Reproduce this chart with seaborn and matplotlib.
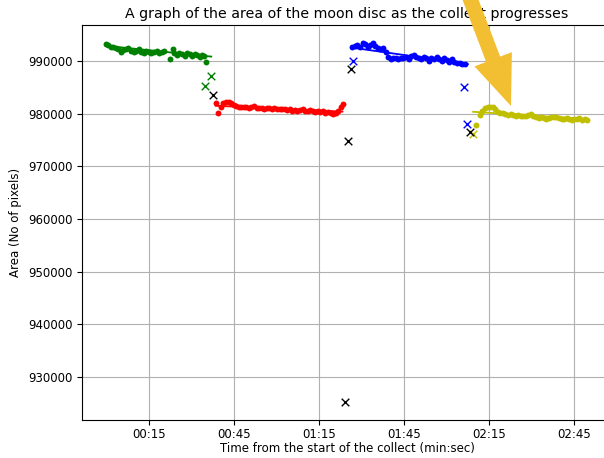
import matplotlib
matplotlib.use("Agg")
import matplotlib.pyplot as plt
from matplotlib.patches import FancyArrow
from matplotlib.transforms import IdentityTransform
from matplotlib.ticker import FuncFormatter
import seaborn as sns

# time in seconds from the start of the collect, area in pixels
green_t = [-0.2, 0.6, 1.5, 2.4, 3.3, 4.2, 5.1, 6.0, 6.9, 7.8, 8.7, 9.6, 10.5, 11.4, 12.3,
           13.2, 14.1, 15.0, 15.9, 16.8, 17.7, 18.6, 19.5, 20.4, 22.6, 23.6, 24.0, 24.9,
           25.8, 26.7, 27.6, 28.5, 29.4, 30.3, 31.2, 32.1, 33.0, 33.9, 34.4, 35.3]
green_area = [993300, 993000, 992750, 992600, 992400, 992200, 991800, 992100, 992300, 992400,
              992000, 991700, 992000, 992200, 991800, 991600, 991900, 991700, 991500, 991800,
              991900, 991600, 991800, 991900, 990300, 992300, 991500, 991200, 991600, 991400,
              991000, 991500, 991300, 990900, 991400, 991200, 990800, 991200, 991000, 989800]

red_t = [38.6, 39.5, 40.4, 41.3, 42.2, 43.1, 44.0, 44.9, 45.8, 46.7, 47.6, 48.5, 49.4, 50.3,
         51.2, 52.1, 53.0, 53.9, 54.8, 55.7, 56.6, 57.5, 58.4, 59.3, 60.2, 61.1, 62.0, 62.9,
         63.8, 64.7, 65.6, 66.5, 67.4, 68.3, 69.2, 70.1, 71.0, 71.9, 72.8, 73.7, 74.6, 75.5,
         76.4, 77.3, 78.2, 79.1, 80.0, 80.9, 81.8, 82.7, 83.6]
red_area = [982000, 980100, 981300, 982100, 982300, 982250, 982000, 981700, 981500, 981300,
            981200, 981250, 981300, 981150, 981200, 981400, 981100, 981000, 981150, 980900,
            981050, 981000, 980850, 981000, 980900, 980800, 980950, 980800, 980700, 980850,
            980600, 980750, 980500, 980700, 980800, 980600, 980550, 980700, 980500, 980400,
            980550, 980300, 980450, 980200, 980300, 980100, 979900, 980200, 980600, 981300,
            981800]

blue_t = [86.8, 87.7, 88.6, 89.5, 90.4, 91.3, 92.2, 93.1, 94.0, 94.9, 95.8, 96.7, 97.6, 98.5,
          99.4, 100.3, 101.2, 102.1, 103.0, 103.9, 104.8, 105.7, 106.6, 107.5, 108.4, 109.3,
          110.2, 111.1, 112.0, 112.9, 113.8, 114.7, 115.6, 116.5, 117.4, 118.3, 119.2, 120.1,
          121.0, 121.9, 122.8, 123.7, 124.6, 125.5, 126.4]
blue_area = [992600, 992800, 993000, 992700, 993400, 993200, 992700, 993000, 993500, 992900,
             992400, 992200, 992500, 991800, 990700, 990400, 990600, 990500, 990300, 990600,
             990500, 990700, 990400, 990900, 991200, 990800, 990600, 990300, 990700, 990500,
             990100, 990600, 990300, 990800, 990400, 990000, 990500, 990200, 989800, 990300,
             989900, 989700, 989600, 989500, 989400]

yellow_t = [130.4, 131.8, 132.7, 133.6, 134.5, 135.4, 136.3, 137.2, 138.1, 139.0, 139.9, 140.8,
            141.7, 142.6, 143.5, 144.4, 145.3, 146.2, 147.1, 148.0, 148.9, 149.8, 150.7, 151.6,
            152.5, 153.4, 154.3, 155.2, 156.1, 157.0, 157.9, 158.8, 159.7, 160.6, 161.5, 162.4,
            163.3, 164.2, 165.1, 166.0, 166.9, 167.8, 168.7, 169.6]
yellow_area = [977800, 979700, 980500, 981000, 981300, 981200, 981300, 980900, 980400, 980200,
               980100, 979900, 979800, 979900, 979700, 979600, 979700, 979600, 979500, 979600,
               979700, 979900, 979600, 979400, 979200, 979300, 979100, 979000, 979200, 979300,
               979400, 979300, 979100, 979000, 978900, 979100, 979000, 978800, 979000, 978900,
               979100, 978800, 979000, 978800]

# straight fits through each segment
fits = {
    "g": ([-0.2, 37.0], [992900, 990850]),
    "r": ([38.6, 83.3], [981500, 980400]),
    "b": ([86.9, 127.5], [992530, 989430]),
    "y": ([129.4, 169.9], [980360, 978980]),
}

# rejected frames
cross_t = {"g": [34.8, 36.9], "b": [87.0, 126.2, 127.2], "y": [129.3],
           "k": [37.6, 84.2, 85.2, 86.3, 128.3]}
cross_area = {"g": [985250, 987150], "b": [990000, 985060, 978030], "y": [976130],
              "k": [983540, 925200, 974800, 988480, 976500]}

colors = {"g": "#008000", "r": "#ff0000", "b": "#0000ff", "y": "#bfbf00", "k": "#000000"}


def mmss(x, pos):
    s = int(round(x))
    return "{:02d}:{:02d}".format(s // 60, s % 60)


def main():
    fig = plt.figure(figsize=(6.04, 4.58), dpi=100)
    # axes run past the right edge, as in the cropped original
    ax = fig.add_axes([82 / 604, 38 / 458, 530 / 604, 395 / 458])

    for key, t, a in [("g", green_t, green_area), ("r", red_t, red_area),
                      ("b", blue_t, blue_area), ("y", yellow_t, yellow_area)]:
        sns.scatterplot(x=t, y=a, color=colors[key], s=18, linewidth=0, ax=ax, zorder=3)
        ft, fa = fits[key]
        sns.lineplot(x=ft, y=fa, color=colors[key], linewidth=1.3, ax=ax, zorder=3)

    for key in ["g", "b", "y", "k"]:
        sns.scatterplot(x=cross_t[key], y=cross_area[key], color=colors[key], marker="x",
                        s=30, linewidth=1.0, ax=ax, zorder=4)

    ax.set_xlim(-8.6, 178.4)
    ax.set_ylim(921800, 996850)
    ax.set_xticks([15, 45, 75, 105, 135, 165])
    ax.xaxis.set_major_formatter(FuncFormatter(mmss))
    ax.set_yticks([930000, 940000, 950000, 960000, 970000, 980000, 990000])
    ax.grid(True, color="#b0b0b0", linewidth=0.8)
    ax.set_axisbelow(True)

    ax.set_title("A graph of the area of the moon disc as the collect progresses",
                 fontsize=10.2, pad=5)
    ax.set_xlabel("Time from the start of the collect (min:sec)", fontsize=8.5, labelpad=0.5)
    ax.set_ylabel("Area (No of pixels)", fontsize=8.5)
    ax.tick_params(labelsize=8.5)
    ax.tick_params(axis="x", pad=2.5)

    # yellow pointer drawn over the figure (figure pixels, y up)
    arrow = FancyArrow(466, 470, 45, -118, width=15, head_width=40, head_length=50,
                       length_includes_head=True, color="#f2bf33", linewidth=0,
                       transform=IdentityTransform(), zorder=10)
    fig.add_artist(arrow)

    fig.savefig("out.png", dpi=100)


if __name__ == "__main__":
    main()
